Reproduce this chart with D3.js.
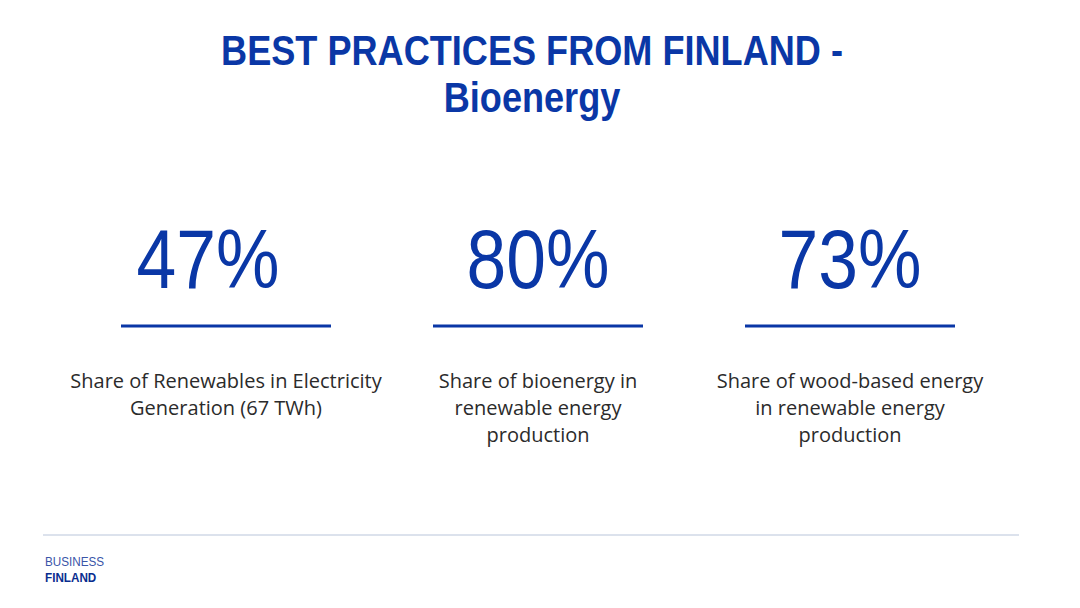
<html>
<script src="https://d3js.org/d3.v7.min.js"></script>
<head>
<style>
  body { margin: 0; background: #fff; }
</style>
</head>
<body onload='init()'>
<svg width=1080 height=608></svg>
<script>
var titleLines = ["BEST PRACTICES FROM FINLAND -", "Bioenergy"];
var keys = ["renewables", "bioenergy", "wood"];
var shares = [47, 80, 73];
var captions = [
  ["Share of Renewables in Electricity", "Generation (67 TWh)"],
  ["Share of bioenergy in", "renewable energy", "production"],
  ["Share of wood-based energy", "in renewable energy", "production"]
];
var logoLines = ["BUSINESS", "FINLAND"];

function init() {
  var blue = "#0a37a6";
  var svg = d3.select("svg");

  // title (condensed look via horizontal scale)
  svg.append("g")
    .attr("transform", "translate(532,0) scale(0.86,1)")
    .selectAll("text")
    .data(titleLines)
    .enter()
    .append("text")
    .attr("x", 0)
    .attr("y", function(d, i) { return 65 + i * 47; })
    .attr("text-anchor", "middle")
    .style("font-family", "'Liberation Sans', sans-serif")
    .style("font-weight", "bold")
    .style("font-size", "42px")
    .style("fill", blue)
    .text(function(d) { return d; });

  // column positions
  var x = d3.scalePoint().domain(keys).range([226, 850]);

  var col = svg.append("g")
    .selectAll("g")
    .data(keys)
    .enter()
    .append("g")
    .attr("transform", function(d) { return "translate(" + x(d) + ",0)"; });

  col.append("text")
    .attr("transform", function(d, i) { return "translate(" + (i == 0 ? -18 : 0) + ",288) scale(0.85,1)"; })
    .attr("text-anchor", "middle")
    .style("font-family", "'Liberation Sans', sans-serif")
    .style("font-size", "84px")
    .style("fill", blue)
    .text(function(d, i) { return d3.format("d")(shares[i]) + "%"; });

  col.append("line")
    .attr("x1", -105)
    .attr("x2", 105)
    .attr("y1", 326)
    .attr("y2", 326)
    .style("stroke", blue)
    .style("stroke-width", 3);

  col.append("g")
    .selectAll("text")
    .data(function(d, i) { return captions[i]; })
    .enter()
    .append("text")
    .attr("x", 0)
    .attr("y", function(d, i) { return 388 + i * 27; })
    .attr("text-anchor", "middle")
    .style("font-family", "'Open Sans', sans-serif")
    .style("font-size", "20px")
    .style("fill", "#2b2b2b")
    .text(function(d) { return d; });

  // footer
  svg.append("line")
    .attr("x1", 43).attr("x2", 1019)
    .attr("y1", 535).attr("y2", 535)
    .style("stroke", "#b9c5da")
    .style("stroke-width", 1);

  svg.append("g")
    .attr("transform", "translate(45,0) scale(0.9,1)")
    .selectAll("text")
    .data(logoLines)
    .enter()
    .append("text")
    .attr("x", 0)
    .attr("y", function(d, i) { return 566 + i * 16; })
    .style("font-family", "'Liberation Sans', sans-serif")
    .style("font-size", "13px")
    .style("font-weight", function(d, i) { return i == 1 ? "bold" : "normal"; })
    .style("fill", function(d, i) { return i == 1 ? "#0a2d8f" : "#3a55a8"; })
    .text(function(d) { return d; });
}
</script>
</body>
</html>
